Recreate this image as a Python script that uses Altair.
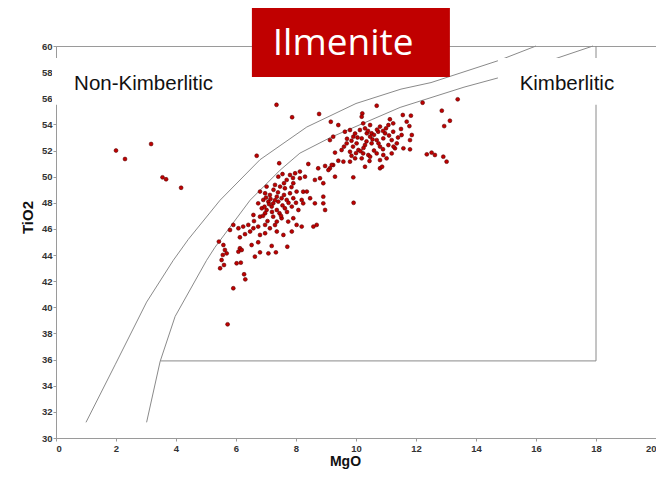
import altair as alt
import pandas as pd

# ---------------- scatter data (MgO wt%, TiO2 wt%) ----------------
OUTLIER_MGO = [2.0, 2.3, 3.17, 3.55, 3.67, 4.17, 7.35, 7.87, 8.77, 6.69]
OUTLIER_TIO2 = [52.0, 51.35, 52.5, 49.95, 49.8, 49.15, 55.5, 54.55, 54.8, 51.6]

UPPER_MGO = [10.69, 12.22, 13.39, 12.86, 13.13, 12.94, 10.21, 10.19, 11.56, 11.83,
             11.13, 11.24, 11.69, 11.78, 9.41, 9.16, 10.24, 10.47, 10.80, 11.08,
             9.63, 9.80, 10.13, 10.36, 10.52, 10.74, 10.97, 11.24, 11.52, 11.86,
             9.91, 10.19, 10.47, 10.69, 10.91, 11.19, 11.36, 11.80, 9.24, 9.13,
             9.69, 10.02, 10.30, 10.52, 10.80, 11.08, 11.30, 11.58, 11.80, 9.52,
             9.30, 9.80, 10.08, 10.24, 10.41, 10.69, 10.91, 11.19, 12.36, 12.52,
             12.63, 12.91, 13.02, 9.97, 10.19, 10.47, 10.80, 11.02, 9.58, 9.41,
             9.24, 9.80, 10.80, 10.30, 9.30, 9.91, 9.13,
             9.97, 10.30, 10.60, 10.35, 10.60, 9.90, 10.90, 11.00, 10.15, 10.70,
             9.70, 11.40, 10.45, 9.85, 10.87,
             10.05, 10.40, 10.75, 11.10, 10.25, 10.55, 9.85, 11.25, 10.90, 9.60,
             10.00, 11.50]
UPPER_TIO2 = [55.43, 55.66, 55.92, 55.05, 54.28, 53.87, 54.84, 54.59, 54.72, 54.67,
              54.39, 54.08, 54.21, 53.87, 53.95, 54.20, 54.08, 53.95, 53.83, 53.95,
              53.44, 53.57, 53.57, 53.32, 53.32, 53.44, 53.32, 53.44, 53.19, 53.19,
              53.06, 52.93, 53.06, 52.80, 52.93, 52.80, 52.55, 52.80, 53.06, 52.80,
              52.55, 52.55, 52.42, 52.55, 52.30, 52.42, 52.17, 52.17, 52.09, 52.04,
              51.84, 51.91, 52.04, 51.78, 51.66, 51.78, 51.66, 51.78, 51.71, 51.84,
              51.66, 51.53, 51.15, 51.40, 51.40, 51.53, 51.27, 51.40, 51.15, 51.22,
              50.89, 51.15, 50.64, 50.76, 50.00, 49.95, 50.64,
              53.30, 53.70, 53.20, 52.70, 52.00, 52.30, 52.10, 53.70, 51.95, 53.60,
              52.90, 53.00, 51.20, 51.60, 50.76,
              53.00, 53.50, 52.55, 53.15, 52.20, 52.85, 52.75, 52.30, 53.50, 52.30,
              51.80, 53.65]

MID_MGO = [9.19, 9.08, 8.30, 8.24, 9.92, 7.02]
MID_TIO2 = [50.90, 50.51, 50.00, 48.85, 48.00, 49.24]

LOWER_MGO = [7.44, 8.41, 8.13, 8.74, 8.97, 7.80, 7.97, 7.69, 7.41, 7.91,
             8.13, 7.47, 7.30, 7.63, 8.02, 7.80, 8.36, 8.63, 8.80, 8.91,
             6.80, 6.97, 7.13, 7.36, 7.52, 6.91, 7.08, 7.24, 7.41, 7.69,
             7.91, 8.19, 6.74, 6.86, 7.02, 7.19, 7.36, 7.63, 7.86, 8.08,
             8.24, 8.47, 8.63, 8.91, 8.97, 8.91, 6.58, 6.80, 6.97, 7.24,
             7.36, 7.52, 7.74, 7.91, 8.02, 8.19, 8.69, 8.58, 6.41, 6.58,
             6.74, 6.97, 7.13, 6.24, 6.08, 5.91, 5.80, 6.47, 6.80, 6.97,
             7.36, 7.58, 7.86, 6.13,
             7.30, 7.55, 7.10, 7.45, 7.75, 7.00, 7.60, 7.25, 6.95, 7.85,
             7.15, 7.40, 7.60, 7.20, 6.90, 7.50, 7.70, 8.00, 7.30, 6.60,
             7.05, 6.30, 7.90, 7.55]
LOWER_TIO2 = [51.03, 50.97, 50.39, 50.64, 50.82, 50.13, 50.26, 49.75, 50.00, 49.50,
              49.88, 49.24, 49.37, 49.11, 48.86, 48.73, 48.86, 49.75, 49.88, 49.50,
              48.86, 48.73, 48.60, 48.47, 48.35, 48.22, 48.09, 47.96, 48.09, 48.22,
              48.35, 48.22, 47.96, 47.58, 47.45, 47.71, 47.45, 47.58, 47.71, 47.45,
              47.96, 48.35, 47.96, 47.96, 47.45, 48.47, 47.07, 46.94, 47.20, 46.94,
              46.56, 46.82, 46.56, 46.82, 46.31, 46.18, 46.31, 46.18, 46.31, 46.05,
              46.18, 46.31, 46.05, 46.18, 46.05, 46.31, 45.92, 45.80, 45.54, 45.67,
              45.80, 45.54, 45.80, 45.36,
              48.20, 47.80, 47.90, 47.20, 48.00, 48.40, 49.50, 49.00, 47.70, 49.20,
              48.30, 48.80, 48.60, 47.30, 47.00, 47.00, 47.30, 48.00, 46.30, 46.60,
              46.60, 45.60, 49.90, 50.20]

BOTTOM_MGO = [5.43, 5.58, 5.63, 5.69, 5.56, 5.52, 5.47, 5.60, 6.13, 6.08,
              6.19, 6.02, 6.16, 6.27, 6.31, 5.91, 5.72, 6.52, 6.63, 6.80,
              7.08, 7.33, 7.71, 6.74, 7.19]
BOTTOM_TIO2 = [45.03, 44.77, 44.39, 44.13, 44.01, 43.62, 42.99, 43.24, 44.52, 44.26,
               44.39, 43.37, 43.42, 42.53, 42.14, 41.46, 38.70, 44.77, 43.88, 44.21,
               44.13, 44.21, 44.64, 44.98, 44.70]

# ---------------- discrimination curves ----------------
OUTER_MGO = [1.0, 1.97, 3.02, 3.91, 4.41, 5.47, 6.8, 8.36, 10.0, 11.5, 12.5, 14.77, 16.0]
OUTER_TIO2 = [31.2, 35.6, 40.4, 43.6, 45.2, 48.2, 51.3, 53.8, 55.6, 56.7, 57.2, 58.9, 60.0]
INNER_MGO = [3.02, 3.47, 3.97, 5.02, 5.3, 6.47, 7.47, 8.13, 9.15, 11.47, 13.6, 14.8, 17.9]
INNER_TIO2 = [31.2, 35.85, 39.3, 43.6, 44.6, 48.2, 50.5, 51.8, 53.0, 55.3, 56.85, 57.6, 60.0]
FIELD_MGO = [3.47, 18.0, 18.0]
FIELD_TIO2 = [35.9, 35.9, 60.0]

# ---------------- labels ----------------
FIELD_LABELS = ["Non-Kimberlitic", "Kimberlitic"]
TITLE_TEXT = "Ilmenite"
X_TICKS = list(range(0, 21, 2))
Y_TICKS = list(range(30, 61, 2))

# ---------------- build frames ----------------
pts = pd.DataFrame({
    "MgO": OUTLIER_MGO + UPPER_MGO + MID_MGO + LOWER_MGO + BOTTOM_MGO,
    "TiO2": OUTLIER_TIO2 + UPPER_TIO2 + MID_TIO2 + LOWER_TIO2 + BOTTOM_TIO2,
})

curves = pd.concat([
    pd.DataFrame({"MgO": OUTER_MGO, "TiO2": OUTER_TIO2, "curve": "outer", "i": range(len(OUTER_MGO))}),
    pd.DataFrame({"MgO": INNER_MGO, "TiO2": INNER_TIO2, "curve": "inner", "i": range(len(INNER_MGO))}),
    pd.DataFrame({"MgO": FIELD_MGO, "TiO2": FIELD_TIO2, "curve": "field", "i": range(len(FIELD_MGO))}),
], ignore_index=True)

# label boxes (in data units of the plot)
boxes = pd.DataFrame({
    "x0": [-0.13, 14.73], "x1": [6.3, 19.63],
    "y0": [55.5, 55.5], "y1": [59.08, 59.08],
})
labels = pd.DataFrame({"MgO": [2.92, 17.03], "TiO2": [56.63, 56.63], "label": FIELD_LABELS})
title_box = pd.DataFrame({"x0": [6.53], "x1": [13.13], "y0": [57.63], "y1": [63.14]})
title_txt = pd.DataFrame({"MgO": [9.57], "TiO2": [59.31], "label": [TITLE_TEXT]})

XSCALE = alt.Scale(domain=[0, 20], nice=False, zero=False)
YSCALE = alt.Scale(domain=[30, 60], nice=False, zero=False)
XAXIS = alt.Axis(values=X_TICKS, labelPadding=2, tickSize=3,
                 titleFontSize=14, titleX=289, titleY=27, titleBaseline="alphabetic")
YAXIS = alt.Axis(values=Y_TICKS, labelPadding=1, titlePadding=6, tickSize=3,
                 titleFontSize=15, titleY=171)


def X(field):
    return alt.X(f"{field}:Q", scale=XSCALE, axis=XAXIS, title="MgO")


def Y(field):
    return alt.Y(f"{field}:Q", scale=YSCALE, axis=YAXIS, title="TiO2")


lines = alt.Chart(curves).mark_line(color="#8a8a8a", strokeWidth=1).encode(
    x=X("MgO"), y=Y("TiO2"), detail="curve:N", order="i:Q"
)

points = alt.Chart(pts).mark_circle(
    size=15, color="#c00000", opacity=1, stroke="#5a0000", strokeWidth=0.6
).encode(x=X("MgO"), y=Y("TiO2"))

white = alt.Chart(boxes).mark_rect(color="white").encode(
    x=X("x0"), x2="x1", y=Y("y0"), y2="y1"
)

field_text = alt.Chart(labels).mark_text(
    font="Liberation Sans", fontSize=20.5, color="#111", baseline="alphabetic", align="center"
).encode(x=X("MgO"), y=Y("TiO2"), text="label:N")

red = alt.Chart(title_box).mark_rect(color="#c00000").encode(
    x=X("x0"), x2="x1", y=Y("y0"), y2="y1"
)

ttext = alt.Chart(title_txt).mark_text(
    font="Open Sans", fontSize=37, color="white", baseline="alphabetic", align="center"
).encode(x=X("MgO"), y=Y("TiO2"), text="label:N")

chart = alt.layer(lines, points, white, field_text, red, ttext).properties(
    width=600,
    height=392,
    autosize=alt.AutoSizeParams(type="none"),
    padding={"left": 48, "top": 38, "right": 0, "bottom": 31},
).configure_view(
    stroke="#9a9a9a", strokeWidth=1
).configure_axis(
    grid=False,
    domainColor="#9a9a9a",
    tickColor="#9a9a9a",
    labelFont="Liberation Sans",
    labelFontWeight="bold",
    labelFontSize=9.5,
    labelColor="#333333",
    titleFont="Liberation Sans",
    titleFontWeight="bold",
    titleColor="#111111",
)

chart.save("out.html", embed_options={"renderer": "svg", "actions": False})
